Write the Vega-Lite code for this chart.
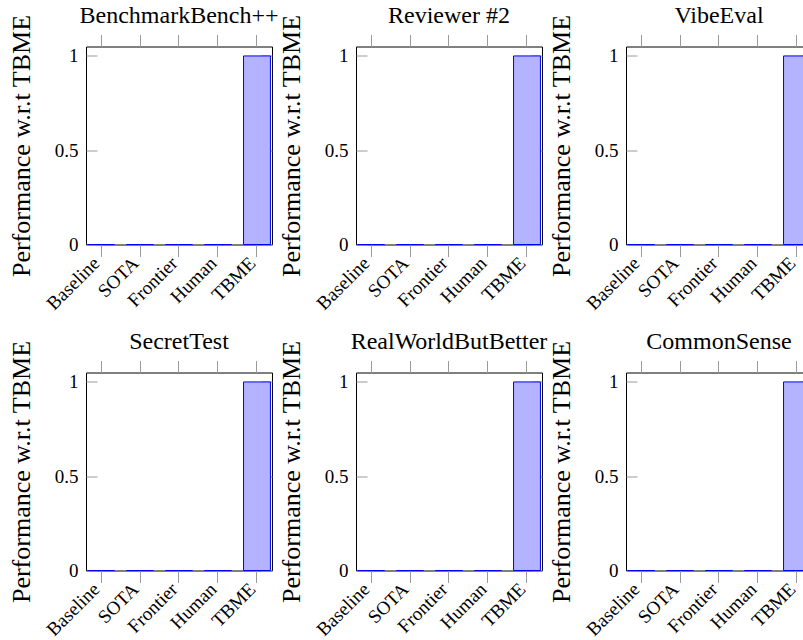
{
  "$schema": "https://vega.github.io/schema/vega-lite/v6.json",
  "background": "white",
  "padding": {"left": 7, "top": 3.5, "right": 0, "bottom": 0},
  "data": {"values": [
    {"benchmark": "BenchmarkBench++", "method": "Baseline", "value": 0},
    {"benchmark": "BenchmarkBench++", "method": "SOTA", "value": 0},
    {"benchmark": "BenchmarkBench++", "method": "Frontier", "value": 0},
    {"benchmark": "BenchmarkBench++", "method": "Human", "value": 0},
    {"benchmark": "BenchmarkBench++", "method": "TBME", "value": 1},
    {"benchmark": "Reviewer #2", "method": "Baseline", "value": 0},
    {"benchmark": "Reviewer #2", "method": "SOTA", "value": 0},
    {"benchmark": "Reviewer #2", "method": "Frontier", "value": 0},
    {"benchmark": "Reviewer #2", "method": "Human", "value": 0},
    {"benchmark": "Reviewer #2", "method": "TBME", "value": 1},
    {"benchmark": "VibeEval", "method": "Baseline", "value": 0},
    {"benchmark": "VibeEval", "method": "SOTA", "value": 0},
    {"benchmark": "VibeEval", "method": "Frontier", "value": 0},
    {"benchmark": "VibeEval", "method": "Human", "value": 0},
    {"benchmark": "VibeEval", "method": "TBME", "value": 1},
    {"benchmark": "SecretTest", "method": "Baseline", "value": 0},
    {"benchmark": "SecretTest", "method": "SOTA", "value": 0},
    {"benchmark": "SecretTest", "method": "Frontier", "value": 0},
    {"benchmark": "SecretTest", "method": "Human", "value": 0},
    {"benchmark": "SecretTest", "method": "TBME", "value": 1},
    {"benchmark": "RealWorldButBetter", "method": "Baseline", "value": 0},
    {"benchmark": "RealWorldButBetter", "method": "SOTA", "value": 0},
    {"benchmark": "RealWorldButBetter", "method": "Frontier", "value": 0},
    {"benchmark": "RealWorldButBetter", "method": "Human", "value": 0},
    {"benchmark": "RealWorldButBetter", "method": "TBME", "value": 1},
    {"benchmark": "CommonSense", "method": "Baseline", "value": 0},
    {"benchmark": "CommonSense", "method": "SOTA", "value": 0},
    {"benchmark": "CommonSense", "method": "Frontier", "value": 0},
    {"benchmark": "CommonSense", "method": "Human", "value": 0},
    {"benchmark": "CommonSense", "method": "TBME", "value": 1}
  ]},
  "facet": {
    "field": "benchmark", "type": "nominal",
    "sort": ["BenchmarkBench++", "Reviewer #2", "VibeEval", "SecretTest", "RealWorldButBetter", "CommonSense"],
    "header": {"title": null, "labelFont": "Liberation Serif", "labelFontSize": 24, "labelColor": "black", "labelPadding": -14}
  },
  "columns": 3,
  "spacing": {"row": 128, "column": 84},
  "bounds": "flush",
  "resolve": {"axis": {"x": "independent", "y": "independent"}},
  "spec": {
    "width": 186,
    "height": 198,
    "layer": [
      {
        "mark": {"type": "bar", "fill": "#b3b3ff", "stroke": "#0000ff", "strokeWidth": 1},
        "encoding": {
          "x": {"field": "method", "type": "nominal", "sort": ["Baseline", "SOTA", "Frontier", "Human", "TBME"],
            "scale": {"paddingInner": 0.31, "paddingOuter": 0.04},
            "axis": {"orient": "bottom", "title": null, "labelAngle": -45, "labelFontSize": 19, "labelColor": "black", "tickSize": 12, "tickColor": "#9a9a9a", "domain": false, "labelPadding": -3, "labelOffset": -11}},
          "y": {"field": "value", "type": "quantitative", "scale": {"domain": [0, 1.05], "nice": false},
            "axis": {"orient": "left", "values": [0, 0.5, 1], "format": "~g", "title": "Performance w.r.t TBME", "titleFont": "Liberation Serif", "titleFontSize": 26, "titleFontWeight": "normal", "titleColor": "black", "titlePadding": 20, "labelFontSize": 19, "labelColor": "black", "tickSize": -11, "tickColor": "#9a9a9a", "labelPadding": 19, "domain": false, "grid": false}}
        }
      },
      {
        "mark": {"type": "bar", "fillOpacity": 0, "strokeOpacity": 0},
        "encoding": {
          "x": {"field": "method", "type": "nominal", "sort": ["Baseline", "SOTA", "Frontier", "Human", "TBME"],
            "axis": {"orient": "top", "title": null, "labels": false, "tickSize": 12, "tickColor": "#9a9a9a", "domain": false}},
          "y": {"field": "value", "type": "quantitative",
            "axis": {"orient": "right", "title": null, "labels": false, "values": [0, 0.5, 1], "tickSize": -11, "tickColor": "#9a9a9a", "domain": false, "grid": false}}
        }
      }
    ],
    "resolve": {"axis": {"x": "independent", "y": "independent"}}
  },
  "config": {
    "font": "Liberation Serif",
    "view": {"stroke": "black", "strokeWidth": 1},
    "axis": {"grid": false, "labelFont": "Liberation Serif", "titleFont": "Liberation Serif"},
    "header": {"labelFont": "Liberation Serif", "titleFont": "Liberation Serif"},
    "style": {"guide-title": {"font": "Liberation Serif"}, "guide-label": {"font": "Liberation Serif"}}
  }
}
